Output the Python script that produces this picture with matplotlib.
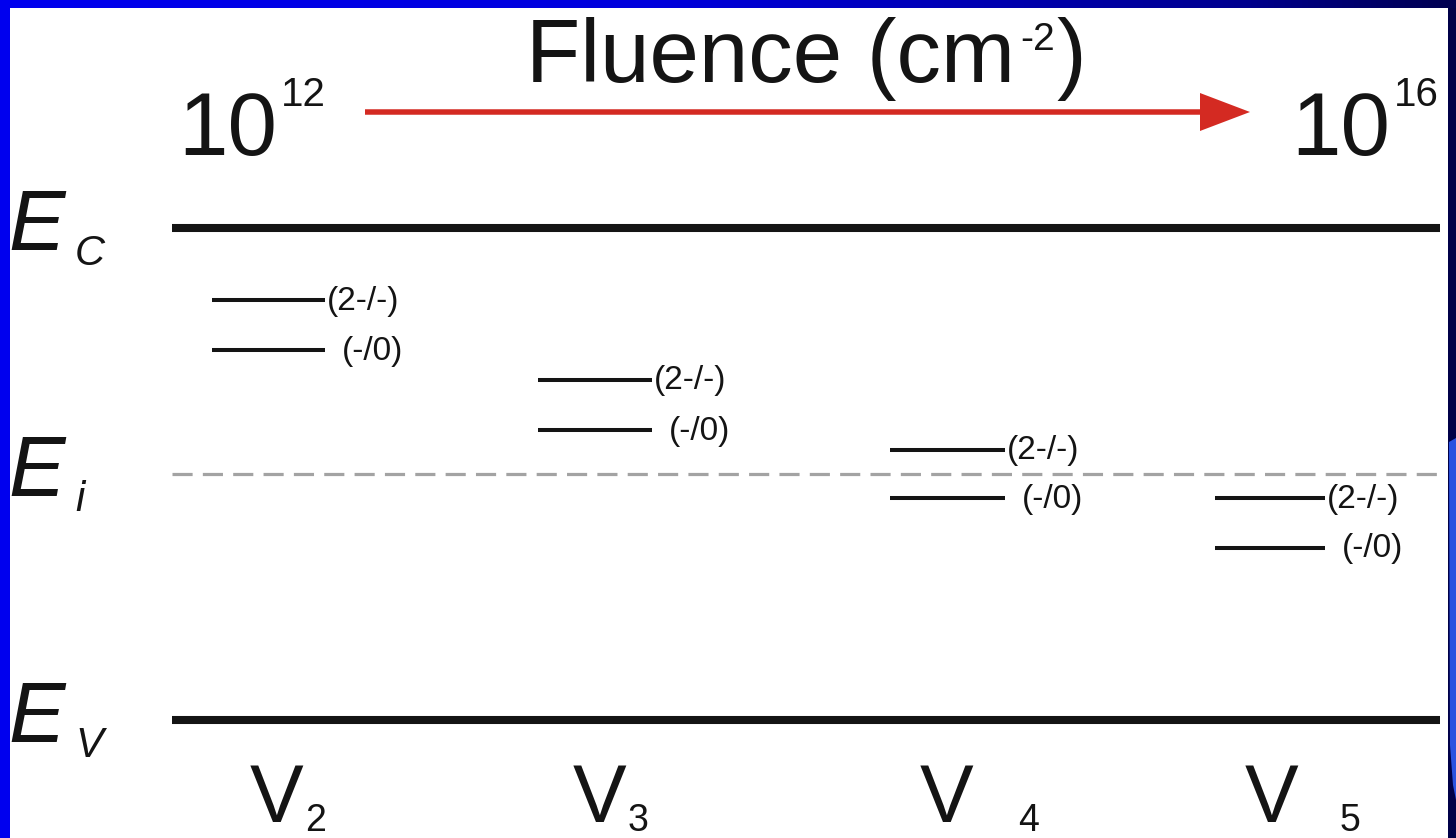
import numpy as np
import matplotlib.pyplot as plt
from matplotlib.patches import Polygon, Rectangle, FancyArrow
from matplotlib.colors import LinearSegmentedColormap

plt.rcParams['font.family'] = ['Liberation Sans', 'DejaVu Sans']

# band edges and intrinsic level (eV above E_V)
E_GAP = 1.12
band_names = ['C', 'i', 'V']
band_energies = [E_GAP, E_GAP / 2, 0.0]

# vacancy clusters and their acceptor levels (eV above E_V)
defects = ['2', '3', '4', '5']
level_2m = [0.956, 0.774, 0.615, 0.505]   # (2-/-)
level_1m = [0.842, 0.660, 0.505, 0.392]   # (-/0)
charge_labels = ['(2-/-)', '(-/0)']

fluence_lo = ('10', '12')
fluence_hi = ('10', '16')

# layout (pixels)
W, H = 1456, 838
Y_EC, Y_EV = 228, 720
PX_PER_EV = (Y_EV - Y_EC) / E_GAP
line_x0 = [212, 538, 890, 1215]
line_x1 = [325, 652, 1005, 1325]
name_x = [277, 600, 947, 1272]
sub_x = [305, 628, 1018, 1340]

fig = plt.figure(figsize=(W / 100, H / 100), dpi=100)

# energy axes: x in pixels, y in eV
ax = fig.add_axes([0, 0, 1, 1])
ax.set_xlim(0, W)
ax.set_ylim(-(H - Y_EV) / PX_PER_EV, Y_EV / PX_PER_EV)
ax.set_facecolor('white')
ax.axis('off')

ink = '#141414'

def put(s, x, e, dx, dy, size, **kw):
    ax.annotate(s, (x, e), xytext=(dx, -dy), textcoords='offset pixels',
                fontsize=size, color=ink, **kw)

# conduction and valence band edges, dashed intrinsic level
for name, e in zip(band_names, band_energies):
    if name == 'i':
        ax.plot([172, 1446], [e, e], color='#a3a3a3', lw=2.3,
                dashes=(6.3, 3.2), solid_capstyle='butt')
    else:
        ax.plot([172, 1440], [e, e], color=ink, lw=5.8, solid_capstyle='butt')

# band labels E_C, E_i, E_V
for name, e in zip(band_names, band_energies):
    put('E', 8, e, 0, 22, 61, ha='left', va='baseline', style='italic')
    put(name, 75, e, 0, 37, 30, ha='left', va='baseline', style='italic')

# defect levels
for k, d in enumerate(defects):
    for lev, lab, gap in zip([level_2m[k], level_1m[k]], charge_labels, [2, 17]):
        ax.plot([line_x0[k], line_x1[k]], [lev, lev], color=ink, lw=2.9,
                solid_capstyle='butt')
        put(lab, line_x1[k], lev, gap, 1, 24, ha='left', va='center')
    put('V', name_x[k], 0.0, 0, 102, 58, ha='center', va='baseline')
    put(d, sub_x[k], 0.0, 0, 111, 27, ha='left', va='baseline')

# overlay in plain pixel coordinates for the fluence header and frame
ov = fig.add_axes([0, 0, 1, 1], zorder=5)
ov.set_xlim(0, W)
ov.set_ylim(H, 0)
ov.set_facecolor('none')
ov.axis('off')

renderer = fig.canvas.get_renderer()

def right_edge(t):
    bb = t.get_window_extent(renderer)
    return ov.transData.inverted().transform((bb.x1, bb.y0))[0]

head = ov.text(526, 82, 'Fluence (cm', fontsize=64, color=ink,
               ha='left', va='baseline')
x = right_edge(head)
sup = ov.text(x + 5, 50, '-2', fontsize=28, color=ink, ha='left', va='baseline')
ov.text(right_edge(sup) + 2, 82, ')', fontsize=64, color=ink,
        ha='left', va='baseline')

for (base, exp), bx in [(fluence_lo, 178), (fluence_hi, 1291)]:
    t = ov.text(bx, 155, base, fontsize=64, color=ink, ha='left', va='baseline')
    ov.text(right_edge(t) + 4, 106, exp, fontsize=29, color=ink,
            ha='left', va='baseline')

ov.add_patch(FancyArrow(365, 112, 885, 0, width=5.5, head_width=38,
                        head_length=50, length_includes_head=True,
                        color='#d42a22', lw=0))

# blue slide frame
grad = LinearSegmentedColormap.from_list(
    'frame', [(0.0, '#0000ee'), (0.45, '#0000dc'), (0.85, '#000090'), (1.0, '#000050')])
ov.imshow(np.linspace(0, 1, 256)[None, :], cmap=grad, aspect='auto',
          extent=(0, W, 8, 0), zorder=10)
ov.add_patch(Rectangle((0, 0), 10, H, color='#0000ee', zorder=11, lw=0))
ov.add_patch(Rectangle((1448, 8), 8, H, color='#000048', zorder=11, lw=0))
ov.add_patch(Polygon([(1449, 442), (1456, 438), (1456, 800), (1453, 785),
                      (1450, 745)], closed=True, color='#2a52e0',
                     zorder=12, lw=0))
ov.set_xlim(0, W)
ov.set_ylim(H, 0)

fig.savefig('out.png', dpi=100)
